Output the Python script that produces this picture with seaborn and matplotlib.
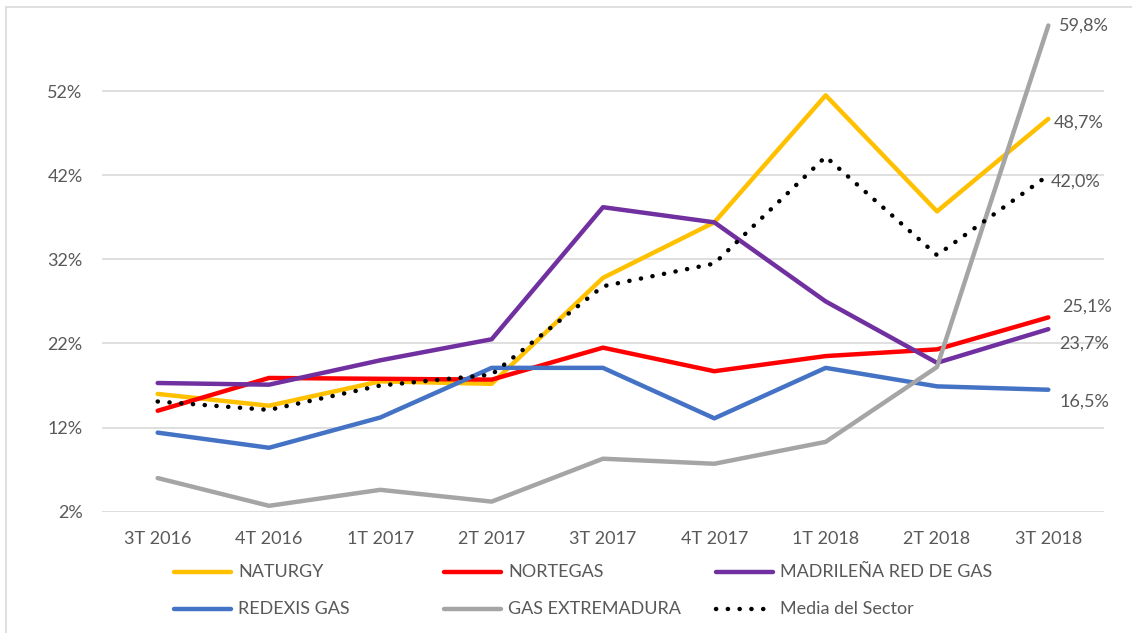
import numpy as np
import pandas as pd
import matplotlib
matplotlib.use('Agg')
import matplotlib.pyplot as plt
from matplotlib.lines import Line2D
from matplotlib.patches import Rectangle
import seaborn as sns

# quarters on the x axis
quarters = ['3T 2016', '4T 2016', '1T 2017', '2T 2017', '3T 2017',
            '4T 2017', '1T 2018', '2T 2018', '3T 2018']

# series values (%)
naturgy = [16.0, 14.6, 17.5, 17.2, 29.8, 36.4, 51.5, 37.7, 48.7]
nortegas = [14.0, 17.9, 17.8, 17.7, 21.5, 18.7, 20.5, 21.3, 25.1]
madrilena = [17.3, 17.1, 20.0, 22.5, 38.2, 36.4, 27.0, 19.7, 23.7]
redexis = [11.4, 9.6, 13.2, 19.1, 19.1, 13.1, 19.1, 16.9, 16.5]
extremadura = [6.0, 2.7, 4.6, 3.2, 8.3, 7.7, 10.3, 19.2, 59.8]
media = [15.1, 14.1, 17.0, 18.3, 28.8, 31.5, 44.2, 32.5, 42.0]

names = ['NATURGY', 'NORTEGAS', 'MADRILEÑA RED DE GAS',
         'REDEXIS GAS', 'GAS EXTREMADURA', 'Media del Sector']
series = [naturgy, nortegas, madrilena, redexis, extremadura, media]
colors = ['#FFC000', '#FF0000', '#7030A0', '#4472C4', '#A5A5A5', '#000000']

y_ticks = [2, 12, 22, 32, 42, 52]

# long table for seaborn
df = pd.DataFrame({
    'pos': np.tile(np.arange(len(quarters)), len(names)),
    'value': np.concatenate(series),
    'serie': np.repeat(names, len(quarters)),
})

sns.set_style('white')
plt.rcParams['font.family'] = ['Lato', 'DejaVu Sans']
text_col = '#595959'
grid_col = '#D9D9D9'

W, H = 1132, 633
fig = plt.figure(figsize=(W / 100, H / 100), dpi=100)
# plot area: x 102..1104 px, y 7..511.7 px (from top)
ax = fig.add_axes([102 / W, (H - 511.7) / H, (1104 - 102) / W, (511.7 - 7) / H])

# chart border (only top and left visible inside the image)
fig.patches.append(Rectangle((6 / W, -0.1), 1.2, 1 - 7 / H + 0.1, transform=fig.transFigure,
                             fill=False, edgecolor=grid_col, lw=1.2))

lw = 3.2
dots = (0, (0.05, 2.6))
for name, col in zip(names, colors):
    sub = df[df['serie'] == name]
    sns.lineplot(data=sub, x='pos', y='value', ax=ax, color=col, lw=lw,
                 legend=False, sort=False)
# make the average line dotted
ax.lines[-1].set_linestyle(dots)
ax.lines[-1].set_dash_capstyle('round')
for ln in ax.lines:
    ln.set_solid_capstyle('round')
    ln.set_solid_joinstyle('round')
    ln.set_clip_on(False)

ax.set_xlim(-0.5, len(quarters) - 0.5)
ax.set_ylim(2, 62)
ax.set_yticks(y_ticks)
ax.set_yticklabels([f'{v}%' for v in y_ticks])
ax.set_xticks(range(len(quarters)))
ax.set_xticklabels(quarters)
ax.set_xlabel('')
ax.set_ylabel('')
ax.tick_params(axis='both', length=0, labelsize=13, labelcolor=text_col)
ax.tick_params(axis='y', pad=14)
ax.tick_params(axis='x', pad=14)
for v in y_ticks:
    ax.axhline(v, color=grid_col, lw=1.2, zorder=0)
for s in ax.spines.values():
    s.set_visible(False)
ax.patch.set_alpha(0)

# end labels (offsets in pixels)
label_vals = [extremadura[-1], naturgy[-1], media[-1], nortegas[-1], madrilena[-1], redexis[-1]]
offsets = [(11, 0), (5, -4), (2, -6), (14, 11), (11, -14), (11, -12)]
for v, (dx, dy) in zip(label_vals, offsets):
    ax.annotate(f'{v:.1f}%'.replace('.', ','), xy=(len(quarters) - 1, v),
                xytext=(dx, dy), textcoords='offset pixels', ha='left', va='center',
                fontsize=13, color=text_col)

# legend, laid out like the Excel one (3 equal columns)
col_x = [174, 444, 716]
row_y = [571.7, 609]
for i, (name, col) in enumerate(zip(names, colors)):
    x0 = col_x[i % 3]
    y0 = 1 - row_y[i // 3] / H
    ln = Line2D([x0 / W, (x0 + 57) / W], [y0, y0], transform=fig.transFigure,
                color=col, lw=lw, solid_capstyle='round')
    if name == 'Media del Sector':
        ln.set_linestyle(dots)
        ln.set_dash_capstyle('round')
    fig.lines.append(ln)
    fig.text((x0 + 64) / W, y0, name, ha='left', va='center', fontsize=13, color=text_col)

fig.savefig('out.png', dpi=100)
